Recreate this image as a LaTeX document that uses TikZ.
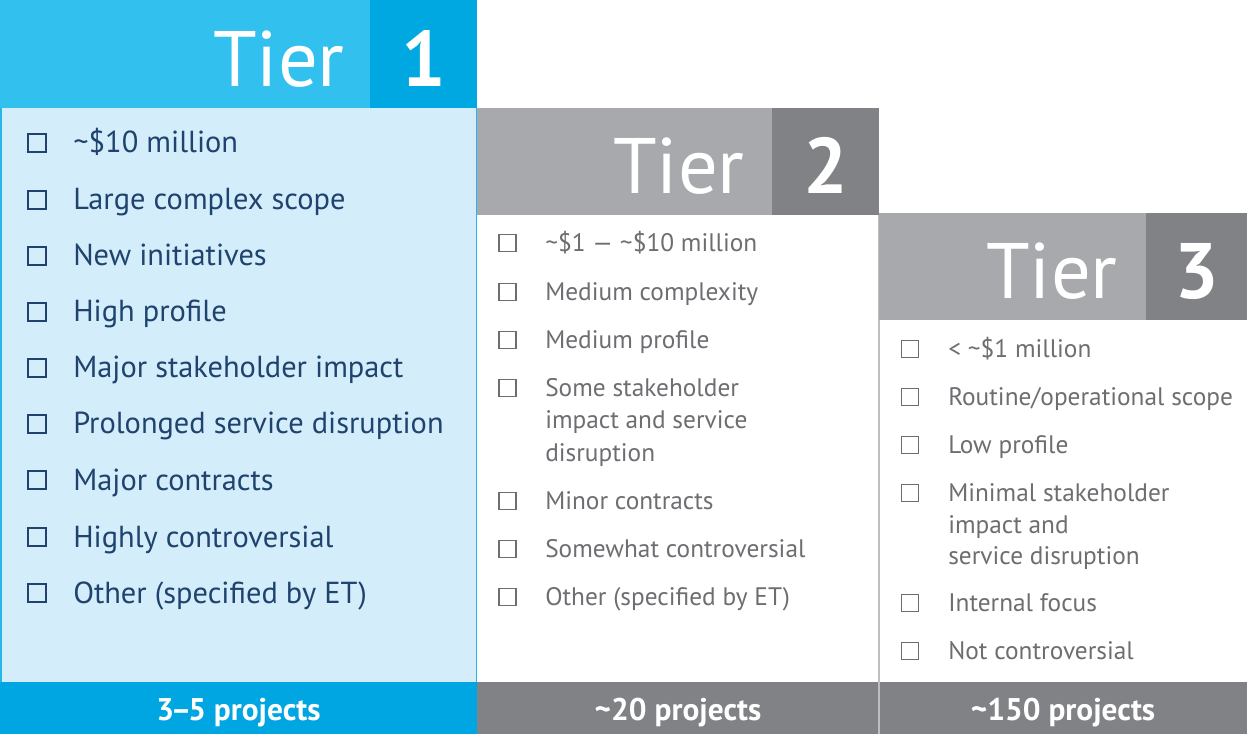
\documentclass[tikz,border=0pt]{standalone}
\usepackage{fontspec}
\setmainfont{PT Sans}
\definecolor{tAhead}{HTML}{32C0EE}
\definecolor{tAdark}{HTML}{00A8E1}
\definecolor{tAbody}{HTML}{D3EDFA}
\definecolor{tAline}{HTML}{27B5EA}
\definecolor{tAbar}{HTML}{00A6E2}
\definecolor{navy}{HTML}{1F436E}
\definecolor{ghead}{HTML}{A7A9AC}
\definecolor{gdark}{HTML}{808285}
\definecolor{gline}{HTML}{BDBEC0}
\definecolor{gtext}{HTML}{6D6E71}
\begin{document}
\begin{tikzpicture}[x=0.75pt,y=-0.75pt,
  hdr/.style={text=white,inner sep=0,font=\fontsize{59}{59}\selectfont,anchor=base east},
  num/.style={text=white,inner sep=0,font=\fontsize{59}{59}\selectfont\bfseries,anchor=base},
  bartext/.style={text=white,inner sep=0,anchor=base,font=\fontsize{23.5}{23.5}\selectfont\bfseries},
  itemA/.style={text=navy,inner sep=0,anchor=base west,font=\fontsize{22.8}{25}\selectfont},
  itemB/.style={text=gtext,inner sep=0,anchor=base west,align=left,font=\fontsize{19}{24.4}\selectfont},
  itemC/.style={text=gtext,inner sep=0,anchor=base west,align=left,font=\fontsize{19}{23.6}\selectfont},
  boxA/.style={draw=navy,line width=1.5pt,inner sep=0,minimum size=13.5pt},
  boxB/.style={draw=gtext,line width=1.1pt,inner sep=0,minimum size=13pt}]
\useasboundingbox (0,0) rectangle (1247,734);
\fill[white] (0,0) rectangle (1247,734);
% Tier 1
\fill[tAbody] (0,108) rectangle (477,682);
\draw[tAline,line width=1.5pt] (1,108) -- (1,682);
\draw[tAline,line width=1.2pt] (476.5,108) -- (476.5,682);
\fill[tAhead] (0,0) rectangle (370,108);
\fill[tAdark] (370,0) rectangle (477,108);
\node[hdr] (t1tier) at (345,87) {Tier};
\node[num] (t1num) at (423.5,87) {1};
\fill[tAbar] (0,682) rectangle (477,734);
\node[bartext] (t1bar) at (238.5,720) {3\kern-2.5pt–\kern-2.5pt5 projects};
\foreach \y/\t [count=\i] in {143/{\textasciitilde\$10 million},200/{Large complex scope},256/{New initiatives},312/{High profile},368/{Major stakeholder impact},424/{Prolonged service disruption},480/{Major contracts},537/{Highly controversial},593/{Other (specified by ET)}}{
  \node[boxA] (t1b\i) at (37,\y) {};
  \node[itemA] (t1i\i) at (73,\y+10) {\t};
}
% Tier 2
\fill[ghead] (477,108) rectangle (772,215);
\fill[gdark] (772,108) rectangle (879,215);
\node[hdr] (t2tier) at (745,194) {Tier};
\node[num] (t2num) at (825.5,194) {2};
\draw[gline,line width=1pt] (878.5,215) -- (878.5,682);
\fill[gdark] (477,682) rectangle (879,734);
\node[bartext] (t2bar) at (678,720) {\textasciitilde 20 projects};
\foreach \y/\t [count=\i] in {243/{\textasciitilde\$1 — \textasciitilde\$10 million},292/{Medium complexity},340/{Medium profile},501/{Minor contracts},549/{Somewhat controversial},597/{Other (specified by ET)}}{
  \node[boxB] (t2b\i) at (507.5,\y) {};
  \node[itemB] (t2i\i) at (545,\y+8.5) {\t};
}
\node[boxB] (t2b7) at (507.5,388) {};
\node[itemB] (t2i7) at (545,461.5) {Some stakeholder\\impact and service\\disruption};
% Tier 3
\fill[ghead] (879,213) rectangle (1146,320);
\fill[gdark] (1146,213) rectangle (1247,320);
\node[hdr] (t3tier) at (1118,299) {Tier};
\node[num] (t3num) at (1196.5,299) {3};
\fill[gdark] (879,682) rectangle (1247,734);
\draw[gline,line width=1pt] (879,320) -- (879,734);
\node[bartext] (t3bar) at (1063,720) {\textasciitilde 150 projects};
\foreach \y/\t [count=\i] in {349/{< \textasciitilde\$1 million},397/{Routine/operational scope},445/{Low profile},603/{Internal focus},651/{Not controversial}}{
  \node[boxB] (t3b\i) at (910,\y) {};
  \node[itemC] (t3i\i) at (948,\y+8.5) {\t};
}
\node[boxB] (t3b6) at (910,493) {};
\node[itemC] (t3i6) at (948,564.5) {Minimal stakeholder\\impact and\\service disruption};
\end{tikzpicture}
\end{document}
